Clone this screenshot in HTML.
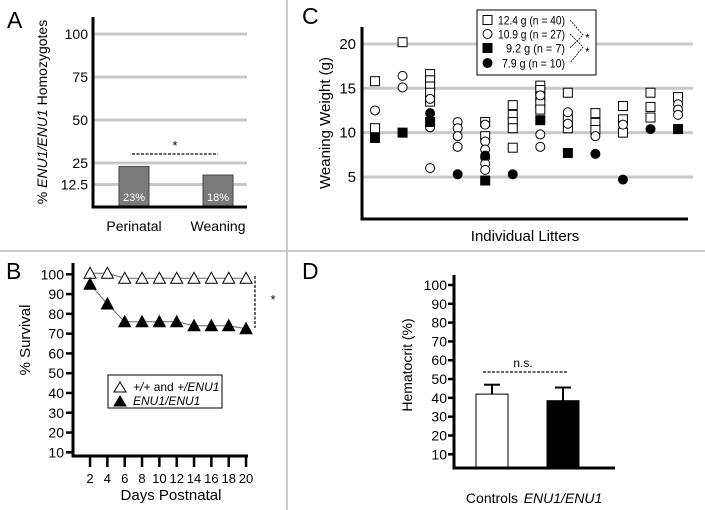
<!DOCTYPE html>
<html><head><meta charset="utf-8"><style>
body{margin:0;background:#fff}
svg{display:block;font-family:"Liberation Sans",sans-serif}
</style></head><body>
<svg id="fig" width="705" height="510" viewBox="0 0 705 510">
<line x1="0" y1="251" x2="705" y2="251" stroke="#bbb" stroke-width="1.5"/>
<line x1="287" y1="0" x2="287" y2="510" stroke="#bbb" stroke-width="1.5"/>
<text x="7" y="28" font-size="23">A</text>
<text x="302" y="24" font-size="23">C</text>
<text x="6" y="279" font-size="23">B</text>
<text x="302" y="279" font-size="23">D</text>
<g id="A"></g>
<g id="C"></g>
<g id="B"></g>
<g id="D"></g>
</svg>
<script>
// Panel A data
const aCats=["Perinatal","Weaning"];
const aVals=[23,18];
const aTicks=[100,75,50,25,12.5];
// Panel C data (per litter)
const cOpenSq=[[15.8,10.5],[20.2],[16.6,15.9,15.2,14.5,13.5],[],[11.2,9.6],[13.1,12,11.2,10.5,8.3],[15.3,14.8,14.1,13.3,12.6],[14.5,11.6,10.5],[12.2,11.1,10.3],[13,11.5,10],[14.5,12.9,11.7],[14.0]];
const cOpenCi=[[12.5],[16.4,15.1],[13.8,10.6,6.0],[11.2,10.5,9.6,8.4],[10.9,9.0,8.1,7.2,6.5,5.8],[],[14.2,9.8,8.4],[12.3,11],[9.6],[10.9],[],[13.2,12.6,12]];
const cFillSq=[[9.4],[10],[11.2],[],[4.6],[],[11.4],[7.7],[],[],[],[10.4]];
const cFillCi=[[],[],[12.2],[5.3],[7.4],[5.3],[],[],[7.6],[4.7],[10.4],[]];
const cTicks=[20,15,10,5];
// Panel B data
const bDays=[2,4,6,8,10,12,14,16,18,20];
const bCtrl=[100.5,100.5,98,98,98,98,98,98,98,98];
const bMut=[95,85,76,76,76,76,74,74,74,72.5];
const bTicks=[100,90,80,70,60,50,40,30,20,10];
// Panel D data
const dCats=["Controls","ENU1/ENU1"];
const dVals=[42,38.5];
const dErr=[47,45.5];
const dTicks=[100,90,80,70,60,50,40,30,20,10];

const NS="http://www.w3.org/2000/svg";
function el(p,t,a,txt){const e=document.createElementNS(NS,t);for(const k in a)e.setAttribute(k,a[k]);if(txt!==undefined)e.textContent=txt;p.appendChild(e);return e;}

// ---- A
(function(){
const g=document.getElementById('A');
const y=v=>206-1.72*v;
aTicks.forEach(t=>{
 const l=el(g,'line',{x1:93,x2:247,y1:y(t),y2:y(t),stroke:'#c8c8c8','stroke-width':3});
 
 
 const tx=el(g,'text',{x:88,y:y(t)+5,'font-size':14,'text-anchor':'end'},String(t));
 
 
});
const xs=[134,218];
aVals.forEach((v,i)=>{
 const r=el(g,'rect',{x:xs[i]-15,y:y(v),width:30,height:206-y(v),fill:'#7a7a7a',stroke:'#444','stroke-width':1});
 
 
 const t=el(g,'text',{x:xs[i],y:201,'font-size':11,fill:'#fff','text-anchor':'middle'},v+'%');
 
 
 const c=el(g,'text',{x:xs[i],y:231,'font-size':14,'text-anchor':'middle'},aCats[i]);
 
 
});
const ax=el(g,'path',{d:'M93 17 V207 H247',fill:'none',stroke:'#000','stroke-width':3});


const d=el(g,'line',{x1:132,x2:218,y1:154,y2:154,stroke:'#333','stroke-width':1.5,'stroke-dasharray':'3,1.5'});


const s=el(g,'text',{x:175,y:150,'font-size':13,'text-anchor':'middle'},'*');


const yt=el(g,'text',{transform:'translate(47,112) rotate(-90)','font-size':14,'text-anchor':'middle'});
yt.innerHTML='% <tspan font-style="italic">ENU1/ENU1</tspan> Homozygotes';


})();

// ---- C
(function(){
const g=document.getElementById('C');
const y=v=>221.3-8.867*v;
const x=i=>375+27.55*i;
cTicks.forEach(t=>{
 const l=el(g,'line',{x1:362,x2:693,y1:y(t),y2:y(t),stroke:'#c8c8c8','stroke-width':3});
 
 
 const tx=el(g,'text',{x:356,y:y(t)+5,'font-size':15,'text-anchor':'end'},String(t));
 
 
});
function sq(i,v,f,n){const r=el(g,'rect',{x:x(i)-4.5,y:y(v)-4.5,width:9,height:9,fill:f,stroke:'#000','stroke-width':1});}
function ci(i,v,f,n){const r=el(g,'circle',{cx:x(i),cy:y(v),r:4.5,fill:f,stroke:'#000','stroke-width':1});}
cOpenSq.forEach((a,i)=>a.forEach(v=>sq(i,v,'#fff','c-open-square-point')));
cOpenCi.forEach((a,i)=>a.forEach(v=>ci(i,v,'#fff','c-open-circle-point')));
cFillSq.forEach((a,i)=>a.forEach(v=>sq(i,v,'#000','c-filled-square-point')));
cFillCi.forEach((a,i)=>a.forEach(v=>ci(i,v,'#000','c-filled-circle-point')));
const ax=el(g,'path',{d:'M362 27 V219 H688',fill:'none',stroke:'#000','stroke-width':3});


const xt=el(g,'text',{x:525,y:241,'font-size':15,'text-anchor':'middle'},'Individual Litters');


const yt=el(g,'text',{transform:'translate(330,123) rotate(-90)','font-size':15,'text-anchor':'middle'},'Weaning Weight (g)');


const lg=el(g,'g',{});


el(lg,'rect',{x:477,y:10,width:119,height:65,fill:'#fff',stroke:'#000','stroke-width':1});
const labels=['12.4 g (n = 40)','10.9 g (n = 27)','9.2 g (n = 7)','7.9 g (n = 10)'];
const lw=[67,67,59,63];
const ly=[20,34,48,63];
labels.forEach((t,i)=>{
 if(i%2==0) el(lg,'rect',{x:483,y:ly[i]-4.5,width:9,height:9,fill:i?'#000':'#fff',stroke:'#000'});
 else el(lg,'circle',{cx:487.5,cy:ly[i],r:4.5,fill:i==3?'#000':'#fff',stroke:'#000'});
 const tx=el(lg,'text',{x:565-lw[i],y:ly[i]+4.5,'font-size':12,textLength:lw[i],lengthAdjust:'spacingAndGlyphs'},t);
 
 
});
el(lg,'path',{d:'M570 20 L583 35 L570 48 M570 34 L583 47 L570 63',fill:'none',stroke:'#000','stroke-width':0.8,'stroke-dasharray':'2,1'});
el(lg,'text',{x:585,y:42,'font-size':12},'*');
el(lg,'text',{x:585,y:56,'font-size':12},'*');
})();

// ---- B
(function(){
const g=document.getElementById('B');
const y=v=>472.1-1.978*v;
const x=d=>72.7+8.667*d;
bTicks.forEach(t=>{
 el(g,'line',{x1:66,x2:73,y1:y(t),y2:y(t),stroke:'#000','stroke-width':2.5});
 const tx=el(g,'text',{x:64,y:y(t)+5,'font-size':14,'text-anchor':'end'},String(t));
 
 
});
bDays.forEach(d=>{
 el(g,'line',{x1:x(d),x2:x(d),y1:456,y2:467,stroke:'#000','stroke-width':2.5});
 const tx=el(g,'text',{x:x(d),y:483,'font-size':13,'text-anchor':'middle'},String(d));
 
 
});
const ax=el(g,'path',{d:'M73 263 V456 H248',fill:'none',stroke:'#000','stroke-width':3});


function series(vals,fill,n){
 const ln=el(g,'polyline',{points:vals.map((v,i)=>x(bDays[i])+','+y(v)).join(' '),fill:'none',stroke:'#666','stroke-width':1});
 
 
 vals.forEach((v,i)=>{
  const cx=x(bDays[i]),cy=y(v);
  const p=el(g,'polygon',{points:`${cx-6},${cy+5} ${cx+6},${cy+5} ${cx},${cy-6}`,fill:fill,stroke:'#000','stroke-width':1});
  
  
 });
}
series(bCtrl,'#fff','b-control');
series(bMut,'#000','b-mutant');
el(g,'line',{x1:255,x2:255,y1:276,y2:328,stroke:'#333','stroke-width':1.5,'stroke-dasharray':'3,1.5'});
el(g,'text',{x:273,y:304,'font-size':13,'text-anchor':'middle'},'*');
const lg=el(g,'g',{});


el(lg,'rect',{x:108,y:375,width:114,height:33,fill:'#fff',stroke:'#000','stroke-width':1});
el(lg,'polygon',{points:'114,392 126,392 120,382',fill:'#fff',stroke:'#000'});
el(lg,'polygon',{points:'114,406 126,406 120,396',fill:'#000',stroke:'#000'});
const t1=el(lg,'text',{x:133,y:391,'font-size':12});
t1.innerHTML='<tspan font-style="italic">+/+</tspan> and <tspan font-style="italic">+/ENU1</tspan>';
el(lg,'text',{x:133,y:405,'font-size':12,'font-style':'italic'},'ENU1/ENU1');
const xt=el(g,'text',{x:171,y:500,'font-size':15,'text-anchor':'middle'},'Days Postnatal');


const yt=el(g,'text',{transform:'translate(30,340) rotate(-90)','font-size':15,'text-anchor':'middle'},'% Survival');


})();

// ---- D
(function(){
const g=document.getElementById('D');
const y=v=>473.1-1.881*v;
dTicks.forEach(t=>{
 el(g,'line',{x1:448,x2:454,y1:y(t),y2:y(t),stroke:'#000','stroke-width':2.5});
 const tx=el(g,'text',{x:447,y:y(t)+5,'font-size':14,'text-anchor':'end'},String(t));
 
 
});
const xs=[492,563];
dVals.forEach((v,i)=>{
 el(g,'line',{x1:xs[i],x2:xs[i],y1:y(dErr[i]),y2:y(v),stroke:'#000','stroke-width':2});
 el(g,'line',{x1:xs[i]-8,x2:xs[i]+8,y1:y(dErr[i]),y2:y(dErr[i]),stroke:'#000','stroke-width':2});
 const r=el(g,'rect',{x:xs[i]-16,y:y(v),width:32,height:468-y(v),fill:i?'#000':'#fff',stroke:'#000','stroke-width':1});
 
 
 const t=el(g,'text',{x:xs[i],y:503,'font-size':14,'text-anchor':'middle','font-style':i?'italic':'normal'},dCats[i]);
 
 
});
const ax=el(g,'path',{d:'M454 275 V468 H615',fill:'none',stroke:'#000','stroke-width':3});


el(g,'line',{x1:483,x2:567,y1:372,y2:372,stroke:'#333','stroke-width':1.5,'stroke-dasharray':'3,1.5'});
el(g,'text',{x:523,y:367,'font-size':12,'text-anchor':'middle'},'n.s.');
const yt=el(g,'text',{transform:'translate(412,365) rotate(-90)','font-size':14,'text-anchor':'middle'},'Hematocrit (%)');


})();
</script>
</body></html>
